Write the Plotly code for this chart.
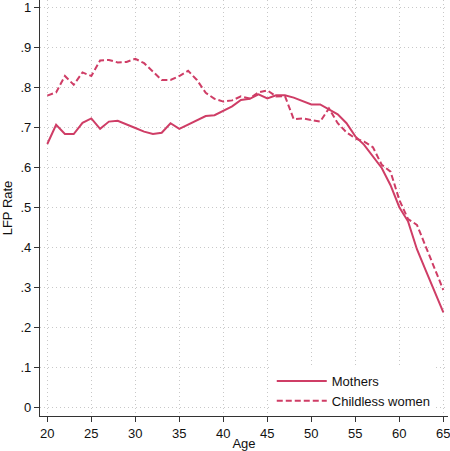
import plotly.graph_objects as go

# Labour force participation by age
ages = list(range(20, 66))

mothers = [
    0.658, 0.706, 0.683, 0.683, 0.711, 0.722, 0.696, 0.714, 0.716, 0.706,
    0.698, 0.689, 0.683, 0.686, 0.710, 0.696, 0.707, 0.717, 0.728, 0.730,
    0.740, 0.752, 0.768, 0.771, 0.782, 0.772, 0.780, 0.780, 0.774, 0.765,
    0.757, 0.757, 0.745, 0.732, 0.710, 0.677, 0.656, 0.627, 0.598, 0.555,
    0.500, 0.464, 0.395, 0.342, 0.290, 0.237,
]

childless = [
    0.779, 0.787, 0.828, 0.806, 0.837, 0.828, 0.867, 0.868, 0.862, 0.863,
    0.871, 0.860, 0.839, 0.818, 0.818, 0.828, 0.841, 0.818, 0.786, 0.771,
    0.764, 0.767, 0.777, 0.772, 0.787, 0.792, 0.777, 0.778, 0.720, 0.722,
    0.718, 0.714, 0.747, 0.710, 0.687, 0.672, 0.664, 0.650, 0.606, 0.589,
    0.518, 0.470, 0.456, 0.401, 0.347, 0.293,
]

x_ticks = [20, 25, 30, 35, 40, 45, 50, 55, 60, 65]
y_ticks = [0, 0.1, 0.2, 0.3, 0.4, 0.5, 0.6, 0.7, 0.8, 0.9, 1.0]
y_tick_labels = ["0", ".1", ".2", ".3", ".4", ".5", ".6", ".7", ".8", ".9", "1"]

color = "#cf3d66"
font = "Liberation Sans, Arial, sans-serif"

fig = go.Figure()
fig.add_trace(go.Scatter(
    x=ages, y=mothers, mode="lines", name="Mothers",
    line=dict(color=color, width=2),
))
fig.add_trace(go.Scatter(
    x=ages, y=childless, mode="lines", name="Childless women",
    line=dict(color=color, width=2, dash="6px,3px"),
))

axis_common = dict(
    showline=True, linecolor="#333333", linewidth=1.3,
    ticks="outside", ticklen=5, tickcolor="#333333", tickwidth=1,
    showgrid=True, gridcolor="#c8c8c8", griddash="1px,3px", gridwidth=1,
    zeroline=False, ticklabeloverflow="allow",
    tickfont=dict(family=font, size=13, color="#111111"),
)

fig.update_layout(
    width=450, height=451,
    margin=dict(l=40, r=2, t=0, b=35),
    paper_bgcolor="white", plot_bgcolor="white",
    font=dict(family=font, size=13, color="#111111"),
    xaxis=dict(
        range=[19.17, 65.53], tickvals=x_ticks,
        title=dict(text="Age", standoff=2, font=dict(size=13)),
        **axis_common,
    ),
    yaxis=dict(
        range=[-0.022, 1.018], tickvals=y_ticks, ticktext=y_tick_labels,
        title=dict(text="LFP Rate", standoff=6, font=dict(size=13)),
        **axis_common,
    ),
    legend=dict(
        x=0.97, y=0.0, xanchor="right", yanchor="bottom",
        bgcolor="white", borderwidth=0,
        font=dict(family=font, size=13, color="#111111"),
        itemwidth=50, tracegroupgap=0,
    ),
    showlegend=True,
)

fig.write_html("out.html")
